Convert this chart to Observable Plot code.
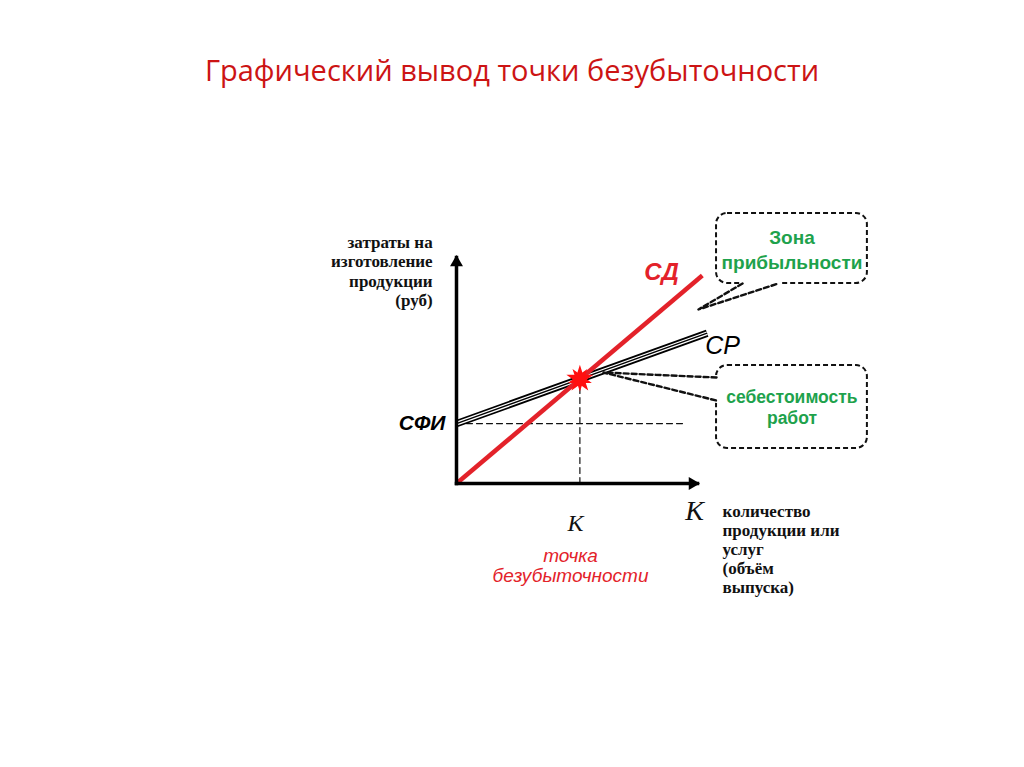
<!DOCTYPE html>
<html>
<head>
<meta charset="utf-8">
<script src="https://cdn.jsdelivr.net/npm/d3@7"></script>
<script src="https://cdn.jsdelivr.net/npm/@observablehq/plot@0.6"></script>
<style>
  html, body { margin: 0; padding: 0; background: #fff; }
  #title { height: 120px; box-sizing: border-box; padding-top: 50px; text-align: center;
           font-family: "Open Sans", "Noto Sans", sans-serif; font-size: 29px; color: #cc1414; line-height: 40px; }
  #chart svg { display: block; }
</style>
</head>
<body>
<div id="title">Графический вывод точки безубыточности</div>
<div id="chart"></div>
<script>
// ---- data (schematic units) ----
const axisEnd = 10;
const sdLine = [[0, 0], [10.2, 9.2]];          // СД – revenue line
const crLine = [[0, 2.65], [10.4, 6.65]];      // СР – total cost line
const sfiLevel = 2.65;                         // СФИ – fixed costs
const sfiDashEnd = 9.4;
const breakEven = [[5.12, 4.62]];              // break-even point
const boxes = [
  {x1: 10.79, x2: 17.05, y1: 8.85, y2: 11.95},
  {x1: 10.79, x2: 17.05, y1: 1.55, y2: 5.22}
];
const pointerZone = [[11.87, 8.85], [10.04, 7.70], [13.36, 8.85]];
const pointerCost = [[10.79, 4.69], [6.10, 4.91], [10.79, 3.67]];
const yAxisLabel = "затраты на\nизготовление\nпродукции\n(руб)";
const xAxisLabel = "количество\nпродукции или\nуслуг\n(объём\nвыпуска)";
const labelSD = "СД", labelCR = "СР", labelSFI = "СФИ", labelK = "К";
const labelBreakEven = "точка\nбезубыточности";
const labelZone = "Зона\nприбыльности";
const labelCost = "себестоимость\nработ";

const sans = "'Liberation Sans', Arial, sans-serif";
const serif = "'Liberation Serif', 'Times New Roman', serif";
const green = "#1ea24c";
const red = "#e3222a";

const chart = Plot.plot({
  width: 1024,
  height: 647,
  margin: 0,
  x: {domain: [0, axisEnd], range: [456, 697], axis: null},
  y: {domain: [0, axisEnd], range: [363, 137], axis: null},
  style: {background: "#fff"},
  marks: [
    // dashed guides
    Plot.line([[0, sfiLevel], [sfiDashEnd, sfiLevel]], {stroke: "#111", strokeWidth: 1.2, strokeDasharray: "6,4"}),
    Plot.line([[breakEven[0][0], 0], breakEven[0]], {stroke: "#111", strokeWidth: 1.2, strokeDasharray: "6,4"}),
    // СР triple line
    Plot.line(crLine, {stroke: "#000", strokeWidth: 7.4, strokeLinecap: "butt"}),
    Plot.line(crLine, {stroke: "#fff", strokeWidth: 3.9, strokeLinecap: "butt"}),
    Plot.line(crLine, {stroke: "#000", strokeWidth: 1.4, strokeLinecap: "butt"}),
    // СД red line
    Plot.line(sdLine, {stroke: red, strokeWidth: 4.5, strokeLinecap: "butt"}),
    // axes
    Plot.line([[0, 0], [axisEnd, 0]], {stroke: "#000", strokeWidth: 3.5, strokeLinecap: "square"}),
    Plot.line([[0, 0], [0, axisEnd]], {stroke: "#000", strokeWidth: 3.5, strokeLinecap: "square"}),
    Plot.dot([[axisEnd, 0]], {symbol: "triangle", r: 4.8, fill: "#000", rotate: 90, dx: -5}),
    Plot.dot([[0, axisEnd]], {symbol: "triangle", r: 4.8, fill: "#000", dy: 5}),
    // break-even starburst
    Plot.dot(breakEven, {symbol: "star", r: 8.5, fill: "#ff1010"}),
    Plot.dot(breakEven, {symbol: "star", r: 7.5, fill: "#ff1010", rotate: 36}),
    // callout boxes
    Plot.rect(boxes, {x1: "x1", x2: "x2", y1: "y1", y2: "y2", rx: 11, fill: "#fff",
      stroke: "#111", strokeWidth: 2, strokeDasharray: "5,3"}),
    Plot.line([pointerZone[0], pointerZone[2]], {stroke: "#fff", strokeWidth: 5}),
    Plot.line([pointerCost[0], pointerCost[2]], {stroke: "#fff", strokeWidth: 5}),
    Plot.line(pointerZone, {stroke: "#111", strokeWidth: 2.4, strokeDasharray: "5,3"}),
    Plot.line(pointerCost, {stroke: "#111", strokeWidth: 2.4, strokeDasharray: "5,3"}),
    // labels
    Plot.text([[-0.99, 9.42]], {text: [yAxisLabel], textAnchor: "end", lineAnchor: "middle",
      fontFamily: serif, fontWeight: "bold", fontSize: 17, lineHeight: 1.15, fill: "#111"}),
    Plot.text([[11.04, -2.88]], {text: [xAxisLabel], textAnchor: "start", lineAnchor: "middle",
      fontFamily: serif, fontWeight: "bold", fontSize: 17, lineHeight: 1.12, fill: "#111"}),
    Plot.text([[8.51, 9.34]], {text: [labelSD], fontFamily: sans, fontWeight: "bold", fontStyle: "italic",
      fontSize: 24, fill: red}),
    Plot.text([[11.04, 6.1]], {text: [labelCR], fontFamily: sans, fontStyle: "italic",
      fontSize: 25, fill: "#000"}),
    Plot.text([[-0.46, sfiLevel]], {text: [labelSFI], textAnchor: "end", fontFamily: sans,
      fontWeight: "bold", fontStyle: "italic", fontSize: 21, fill: "#000"}),
    Plot.text([[4.94, -1.77]], {text: [labelK], fontFamily: serif, fontStyle: "italic", fontSize: 24, fill: "#111"}),
    Plot.text([[9.88, -1.24]], {text: [labelK], fontFamily: serif, fontStyle: "italic", fontSize: 28, fill: "#111"}),
    Plot.text([[4.73, -3.63]], {text: [labelBreakEven], lineAnchor: "middle", fontFamily: sans,
      fontStyle: "italic", fontSize: 19, lineHeight: 1.05, fill: red}),
    Plot.text([[13.92, 10.4]], {text: [labelZone], lineAnchor: "middle", fontFamily: sans, fontWeight: "bold",
      fontSize: 19, lineHeight: 1.35, fill: green}),
    Plot.text([[13.92, 3.4]], {text: [labelCost], lineAnchor: "middle", fontFamily: sans, fontWeight: "bold",
      fontSize: 17.5, lineHeight: 1.2, fill: green})
  ]
});
document.getElementById("chart").appendChild(chart);
</script>
</body>
</html>
